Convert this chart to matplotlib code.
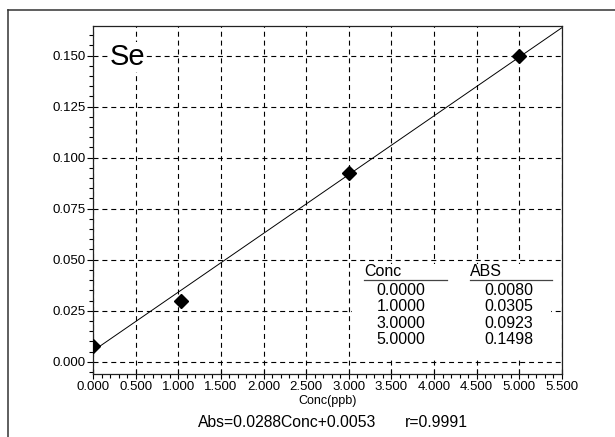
import matplotlib
matplotlib.use("Agg")
import matplotlib.pyplot as plt
from matplotlib.lines import Line2D
from matplotlib.patches import Rectangle
from matplotlib.ticker import MultipleLocator, FormatStrFormatter

plt.rcParams['font.family'] = ['Liberation Sans', 'DejaVu Sans']

# ---- data ----
element = "Se"
table_conc = [0.0000, 1.0000, 3.0000, 5.0000]
table_abs = [0.0080, 0.0305, 0.0923, 0.1498]
point_conc = [0.0, 1.03, 3.0, 5.0]
point_abs = [0.0075, 0.0297, 0.0923, 0.1498]
slope = 0.0288
intercept = 0.0053
r_value = 0.9991
x_label = "Conc(ppb)"
x_lim = (0.0, 5.5)
y_lim = (-0.006, 0.1645)

W, H = 615, 437
fig = plt.figure(figsize=(W / 100, H / 100), dpi=100)
fig.patch.set_facecolor('white')

# outer frame (left and top edges)
fig.add_artist(Line2D([8 / W, 8 / W], [0, 1 - 10 / H], transform=fig.transFigure,
                      color='#333333', lw=1.1))
fig.add_artist(Line2D([8 / W, 1], [1 - 10 / H, 1 - 10 / H], transform=fig.transFigure,
                      color='#333333', lw=1.1))

ax = fig.add_axes([93 / W, (H - 374) / H, (562 - 93) / W, (374 - 26) / H])
ax.set_xlim(*x_lim)
ax.set_ylim(*y_lim)

ax.xaxis.set_major_locator(MultipleLocator(0.5))
ax.xaxis.set_minor_locator(MultipleLocator(0.1))
ax.yaxis.set_major_locator(MultipleLocator(0.025))
ax.yaxis.set_minor_locator(MultipleLocator(0.005))
ax.xaxis.set_major_formatter(FormatStrFormatter('%.3f'))
ax.yaxis.set_major_formatter(FormatStrFormatter('%.3f'))

ax.tick_params(axis='x', which='major', direction='inout', length=7, width=0.8,
               labelsize=9.5, pad=1.5, colors='black')
ax.tick_params(axis='x', which='minor', direction='out', length=3, width=0.8)
ax.tick_params(axis='y', which='major', direction='out', length=4, width=0.8,
               labelsize=9.5, pad=1.5, colors='black')
ax.tick_params(axis='y', which='minor', direction='out', length=2.8, width=0.8)

for s in ax.spines.values():
    s.set_linewidth(0.9)
    s.set_color('#222222')

ax.grid(True, which='major', color='black', linestyle=(0, (4.5, 3.5)), linewidth=0.8)
ax.set_axisbelow(True)

# regression line
xs = [x_lim[0], x_lim[1]]
ys = [slope * x + intercept for x in xs]
ax.plot(xs, ys, color='black', lw=0.7, zorder=3)

# data points
ax.plot(point_conc, point_abs, linestyle='none', marker='D', markersize=7.5,
        color='black', zorder=4)

# element label
ax.text(0.036, 0.888, element, transform=ax.transAxes, fontsize=21,
        ha='left', va='baseline', zorder=5,
        bbox=dict(facecolor='white', edgecolor='none', pad=0.5))

# table with white background
ax.add_patch(Rectangle((0.552, 0.049), 0.425, 0.268, transform=ax.transAxes,
                       facecolor='white', edgecolor='none', zorder=2.5))
tfs = 11.5
ax.text(0.578, 0.2816, "Conc", transform=ax.transAxes, fontsize=tfs,
        ha='left', va='baseline', zorder=5)
ax.text(0.803, 0.2816, "ABS", transform=ax.transAxes, fontsize=tfs,
        ha='left', va='baseline', zorder=5)
ax.add_line(Line2D([0.578, 0.755], [0.270, 0.270], transform=ax.transAxes,
                   color='#444444', lw=0.9, zorder=5))
ax.add_line(Line2D([0.803, 0.978], [0.270, 0.270], transform=ax.transAxes,
                   color='#444444', lw=0.9, zorder=5))
row_y = [0.2284, 0.181, 0.1336, 0.0862]
for yy, c, a in zip(row_y, table_conc, table_abs):
    ax.text(0.657, yy, f"{c:.4f}", transform=ax.transAxes, fontsize=tfs,
            ha='center', va='baseline', zorder=5)
    ax.text(0.887, yy, f"{a:.4f}", transform=ax.transAxes, fontsize=tfs,
            ha='center', va='baseline', zorder=5)

# axis label
ax.set_xlabel(x_label, fontsize=9, labelpad=1.5)

# equation
fig.text(197.7 / W, (H - 426.7) / H, f"Abs={slope:.4f}Conc+{intercept:.4f}",
         fontsize=11.3, ha='left', va='baseline')
fig.text(405 / W, (H - 426.7) / H, f"r={r_value:.4f}",
         fontsize=11.3, ha='left', va='baseline')

fig.savefig("out.png", dpi=100, facecolor='white')
